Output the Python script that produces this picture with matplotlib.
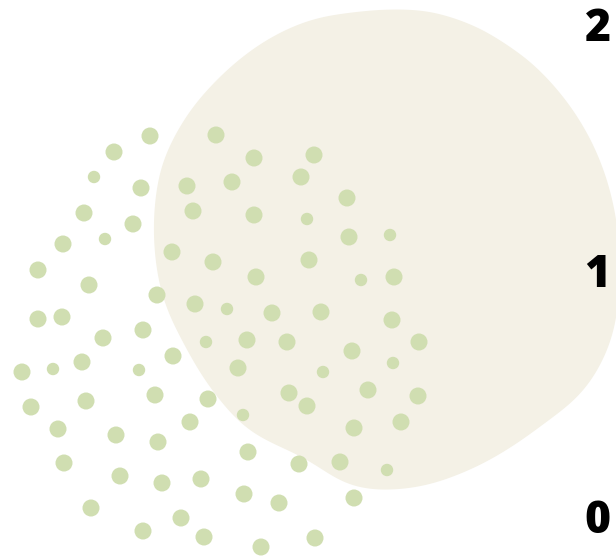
import numpy as np
from matplotlib import pyplot as plt
from matplotlib.patches import Polygon

# dot centres (pixels from top-left) and size class (1 = big, 0 = small)
dot_x = [150, 114, 94, 141, 187, 216, 84, 133, 193, 105, 63, 38, 89, 172, 213,
         157, 195, 227, 38, 62, 103, 143, 206, 254, 314, 232, 301, 347, 254, 307,
         349, 390, 309, 256, 361, 394, 272, 321, 392, 419, 247, 287, 22, 53, 82,
         139, 173, 31, 86, 155, 208, 58, 116, 158, 190, 64, 120, 162, 201, 91,
         181, 143, 204, 352, 238, 323, 393, 289, 307, 368, 418, 243, 354, 401, 248,
         299, 340, 387, 244, 279, 354, 261, 315]
dot_y = [136, 152, 177, 188, 186, 135, 213, 224, 211, 239, 244, 270, 285, 252, 262,
         295, 304, 309, 319, 317, 338, 330, 342, 158, 155, 182, 177, 198, 215, 219,
         237, 235, 260, 277, 280, 277, 313, 312, 320, 342, 340, 342, 372, 369, 362,
         370, 356, 407, 401, 395, 399, 429, 435, 442, 422, 463, 476, 483, 479, 508,
         518, 531, 537, 351, 368, 372, 363, 393, 406, 390, 396, 415, 428, 422, 452,
         464, 462, 470, 494, 503, 498, 547, 538]
dot_big = [1, 1, 0, 1, 1, 1, 1, 1, 1, 0, 1, 1, 1, 1, 1,
           1, 1, 0, 1, 1, 1, 1, 0, 1, 1, 1, 1, 1, 1, 0,
           1, 0, 1, 1, 0, 1, 1, 1, 1, 1, 1, 1, 1, 0, 1,
           0, 1, 1, 1, 1, 1, 1, 1, 1, 1, 1, 1, 1, 1, 1,
           1, 1, 1, 1, 1, 0, 0, 1, 1, 1, 1, 0, 1, 1, 1,
           1, 1, 0, 1, 1, 1, 1, 1]

# blob outline
blob_x = [380, 430, 480, 530, 563, 587, 603, 613, 619, 620, 617, 608, 592, 573,
          550, 520, 480, 432, 390, 353, 330, 313, 293, 279, 246, 219, 199, 179,
          165, 156, 153, 155, 161, 174, 191, 215, 241, 275, 316]
blob_y = [9, 10, 27, 60, 95, 131, 166, 200, 235, 280, 320, 351, 381, 403,
          419, 442, 466, 485, 491, 488, 476, 462, 452, 447, 430, 400, 372, 335,
          307, 270, 230, 197, 164, 136, 108, 81, 57, 34, 17]

ticks = [0, 1, 2]


def smooth_closed(xs, ys, n=1200, win=61):
    # resample the closed outline evenly, then round it off
    p = np.column_stack([xs + xs[:1], ys + ys[:1]]).astype(float)
    d = np.r_[0, np.cumsum(np.hypot(*np.diff(p, axis=0).T))]
    s = np.linspace(0, d[-1], n, endpoint=False)
    x = np.interp(s, d, p[:, 0])
    y = np.interp(s, d, p[:, 1])
    k = np.exp(-0.5 * (np.arange(win) - win // 2) ** 2 / (win / 4) ** 2)
    k /= k.sum()
    pad = win // 2
    x = np.convolve(np.r_[x[-pad:], x, x[:pad]], k, mode='valid')
    y = np.convolve(np.r_[y[-pad:], y, y[:pad]], k, mode='valid')
    return np.column_stack([x, y])


fig = plt.figure(figsize=(6.16, 5.57), dpi=100)
ax = fig.add_axes([0, 0, 1, 1])
ax.set_xlim(0, 616)
ax.set_ylim(557, 0)
ax.axis('off')

ax.add_patch(Polygon(smooth_closed(blob_x, blob_y), closed=True,
                     facecolor='#f4f1e6', edgecolor='none', zorder=1))

sizes = np.where(np.array(dot_big) == 1, 150, 80)
ax.scatter(dot_x, dot_y, s=sizes, color='#d0deb1', edgecolors='none', zorder=2)

# scale labels on the right
sax = fig.add_axes([0, 0, 0.94, 1], frameon=False)
sax.set_ylim(-0.1667, 2.098)
sax.set_xticks([])
sax.yaxis.tick_right()
sax.set_yticks(ticks)
sax.set_yticklabels([str(t) for t in ticks])
sax.tick_params(axis='y', length=0, pad=4)
for lab in sax.get_yticklabels():
    lab.set_fontfamily('Open Sans')
    lab.set_fontweight('heavy')
    lab.set_fontsize(32)
    lab.set_color('black')
sax.patch.set_alpha(0)

plt.savefig('out.png', dpi=100)
